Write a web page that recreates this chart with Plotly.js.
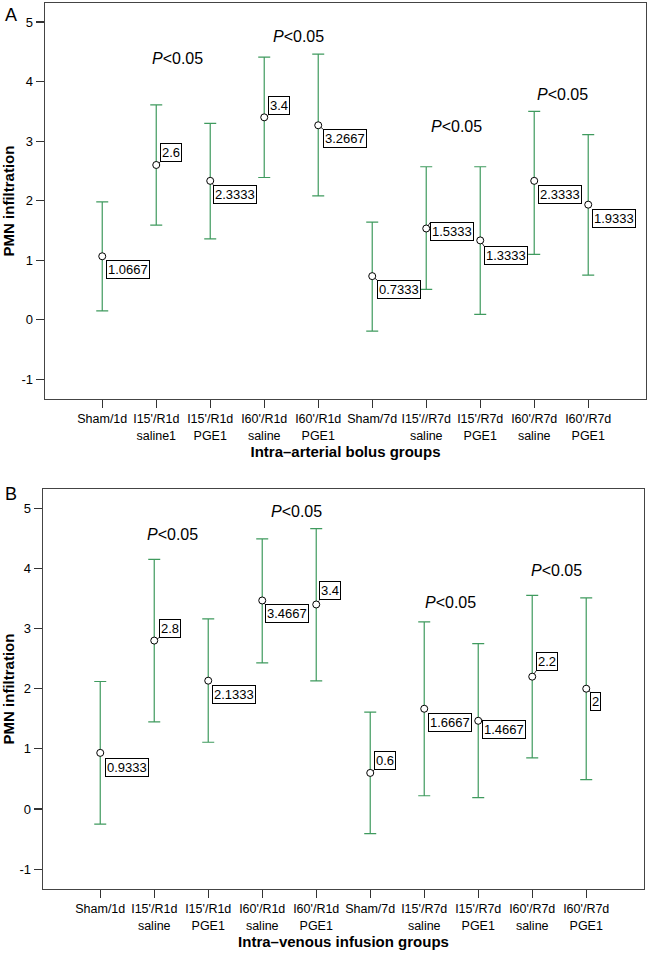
<!DOCTYPE html>
<html><head><meta charset="utf-8">
<script src="https://cdn.plot.ly/plotly-3.0.1.min.js"></script>
<style>html,body{margin:0;padding:0;background:#fff}</style>
</head><body><div id="chart" style="width:648px;height:954px"></div>
<script>
// ---- data ----
var ticksA = ["Sham/1d","I15'/R1d<br>saline1","I15'/R1d<br>PGE1","I60'/R1d<br>saline","I60'/R1d<br>PGE1","Sham/7d","I15'//R7d<br>saline","I15'/R7d<br>PGE1","I60'/R7d<br>saline","I60'/R7d<br>PGE1"];
var ticksB = ["Sham/1d","I15'/R1d<br>saline","I15'/R1d<br>PGE1","I60'/R1d<br>saline","I60'/R1d<br>PGE1","Sham/7d","I15'/R7d<br>saline","I15'/R7d<br>PGE1","I60'/R7d<br>saline","I60'/R7d<br>PGE1"];
var yTickVals = [-1, 0, 1, 2, 3, 4, 5];
var yTickText = ["-1", "0", "1", "2", "3", "4", "5"];
var meanA  = [1.0667, 2.6, 2.3333, 3.4, 3.2667, 0.7333, 1.5333, 1.3333, 2.3333, 1.9333];
var upperA = [1.98, 3.61, 3.30, 4.41, 4.46, 1.64, 2.57, 2.57, 3.50, 3.11];
var lowerA = [0.15, 1.59, 1.36, 2.39, 2.08, -0.19, 0.51, 0.09, 1.10, 0.75];
var meanB  = [0.9333, 2.8, 2.1333, 3.4667, 3.4, 0.6, 1.6667, 1.4667, 2.2, 2];
var upperB = [2.12, 4.15, 3.16, 4.49, 4.66, 1.61, 3.11, 2.75, 3.55, 3.51];
var lowerB = [-0.25, 1.45, 1.11, 2.43, 2.13, -0.41, 0.22, 0.19, 0.85, 0.49];
var titleA = "Intra–arterial bolus groups";
var titleB = "Intra–venous infusion groups";
var yTitle = "PMN infiltration";
var pText = "<i>P</i>&lt;0.05";
// P<0.05 label placement (x in category units, y in data units)
var pPosA = [[1.39, 4.38], [3.64, 4.75], [6.56, 3.24], [8.52, 3.78]];
var pPosB = [[1.33, 4.57], [3.64, 4.94], [6.49, 3.44], [8.45, 3.97]];
// value-label box offsets in pixels [dx, dy, yanchor]
var offA = [[4,4,'top'],[4,-3,'bottom'],[3,4,'top'],[4,-2,'bottom'],[5,4,'top'],[5,4,'top'],[4,-6,'top'],[4,6,'top'],[4,4,'top'],[4,4,'top']];
var offB = [[5,5,'top'],[5,-3,'bottom'],[4,4,'top'],[3,4,'top'],[3,-4,'bottom'],[4,-3,'bottom'],[4,4,'top'],[4,-1,'top'],[4,-6,'bottom'],[4,3,'top']];

var FONT = "Liberation Sans, Arial, Helvetica, sans-serif";
var GREEN = "#3f9a5e";
var idx = meanA.map(function(_, i){ return i; });

function trace(mean, up, lo, xa, ya) {
  return {
    type: 'scatter', mode: 'markers', x: idx, y: mean, xaxis: xa, yaxis: ya,
    marker: {symbol: 'circle', size: 7, color: '#ffffff', line: {color: '#000', width: 1}},
    error_y: {type: 'data', symmetric: false,
      array: up.map(function(v, i){ return v - mean[i]; }),
      arrayminus: lo.map(function(v, i){ return mean[i] - v; }),
      color: GREEN, thickness: 1.2, width: 6},
    hoverinfo: 'none', showlegend: false, cliponaxis: false
  };
}

var annotations = [];
function addLabels(mean, off, xr, yr) {
  mean.forEach(function(m, i){
    annotations.push({xref: xr, yref: yr, x: i, y: m, text: String(m),
      showarrow: true, arrowhead: 0, arrowwidth: 0.8, arrowcolor: '#000', standoff: 3.5,
      ax: off[i][0], ay: off[i][1], xanchor: 'left', yanchor: off[i][2],
      bordercolor: '#000', borderwidth: 1, borderpad: 1, bgcolor: '#fff',
      font: {family: FONT, size: 13, color: '#000'}});
  });
}
function addP(pos, xr, yr) {
  pos.forEach(function(p){
    annotations.push({xref: xr, yref: yr, x: p[0], y: p[1], text: pText, showarrow: false,
      xanchor: 'center', yanchor: 'middle', font: {family: FONT, size: 16, color: '#000'}});
  });
}
addLabels(meanA, offA, 'x', 'y');
addLabels(meanB, offB, 'x2', 'y2');
addP(pPosA, 'x', 'y');
addP(pPosB, 'x2', 'y2');
annotations.push({xref: 'paper', yref: 'paper', x: 3/648, y: 1 - 3/954, text: 'A', showarrow: false,
  xanchor: 'left', yanchor: 'top', font: {family: FONT, size: 18, color: '#000'}});
annotations.push({xref: 'paper', yref: 'paper', x: 3/648, y: 1 - 482/954, text: 'B', showarrow: false,
  xanchor: 'left', yanchor: 'top', font: {family: FONT, size: 18, color: '#000'}});

function xaxis(dom, ticks, title, anchor) {
  return {domain: dom, anchor: anchor, range: [-1.06, 10.07], tickmode: 'array', tickvals: idx, ticktext: ticks,
    ticks: 'outside', ticklen: 8, tickcolor: '#333', tickwidth: 1.2,
    showline: true, linecolor: '#444', linewidth: 1.3, mirror: true, showgrid: false, zeroline: false,
    tickfont: {family: FONT, size: 12.5, color: '#000'},
    title: {text: '<b>' + title + '</b>', font: {family: FONT, size: 15, color: '#000'}, standoff: 5}};
}
function yaxis(dom, anchor) {
  return {domain: dom, anchor: anchor, range: [-1.33, 5.32], tickmode: 'array', tickvals: yTickVals, ticktext: yTickText,
    ticks: 'outside', ticklen: 8, tickcolor: '#333', tickwidth: 1.2,
    showline: true, linecolor: '#444', linewidth: 1.3, mirror: true, showgrid: false, zeroline: false,
    tickfont: {family: FONT, size: 13, color: '#000'},
    title: {text: '<b>' + yTitle + '</b>', font: {family: FONT, size: 15, color: '#000'}, standoff: 6}};
}

var layout = {
  width: 648, height: 954, margin: {l: 0, r: 0, t: 0, b: 0},
  paper_bgcolor: '#fff', plot_bgcolor: '#fff',
  xaxis: xaxis([45/648, 646/648], ticksA, titleA, 'y'),
  yaxis: yaxis([1 - 399/954, 1 - 3/954], 'x'),
  xaxis2: xaxis([43/648, 644/648], ticksB, titleB, 'y2'),
  yaxis2: yaxis([1 - 889/954, 1 - 489/954], 'x2'),
  annotations: annotations
};

Plotly.newPlot('chart', [trace(meanA, upperA, lowerA, 'x', 'y'), trace(meanB, upperB, lowerB, 'x2', 'y2')], layout, {displayModeBar: false, staticPlot: true});
</script></body></html>
